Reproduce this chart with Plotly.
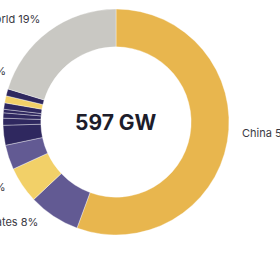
import plotly.graph_objects as go

# Data (GW added)
labels = ["China", "United States", "India", "Germany", "Brazil", "Spain", "Italy",
          "France", "Netherlands", "Japan", "Poland", "Rest of World"]
values = [332, 44, 31, 21, 17, 6, 4.5, 3, 5.5, 6, 6, 121]
colors = ["#E8B64E", "#625A93", "#F2D068", "#625A93", "#2F285F", "#2F285F", "#2F285F",
          "#2F285F", "#2F285F", "#F2D068", "#2F285F", "#C9C8C3"]

total_text = "597 GW"
label_texts = ["China 55%", "United States 8%", "India 5%", "European Union 11%", "Rest of World 19%"]

W = H = 280
cx, cy, R = 116, 122, 113

fig = go.Figure(go.Pie(
    labels=labels, values=values, sort=False, direction="clockwise", rotation=0,
    hole=0.665, textinfo="none", hoverinfo="none",
    marker=dict(colors=colors, line=dict(color="rgba(255,255,255,0.6)", width=0.6)),
    domain=dict(x=[(cx - R) / W, (cx + R) / W], y=[(H - cy - R) / H, (H - cy + R) / H]),
    showlegend=False,
))

# label positions (px): (x, y, anchor)
pos = [(240, 133, "left"), (40, 222, "right"), (8, 187, "right"), (8, 71, "right"), (42, 19, "right")]
anns = []
for t, (x, y, a) in zip(label_texts, pos):
    anns.append(dict(text=t, x=x / W, y=1 - y / H, xref="paper", yref="paper",
                     xanchor=a, yanchor="middle", showarrow=False,
                     font=dict(family="Inter", size=11, color="#3a3a44")))
anns.append(dict(text="<b>" + total_text + "</b>", x=cx / W, y=1 - cy / H, xref="paper", yref="paper",
                 xanchor="center", yanchor="middle", showarrow=False,
                 font=dict(family="Inter", size=21, color="#1d1d2b")))

fig.update_layout(width=W, height=H, margin=dict(l=0, r=0, t=0, b=0),
                  paper_bgcolor="white", plot_bgcolor="white", annotations=anns)
fig.write_html("out.html")
